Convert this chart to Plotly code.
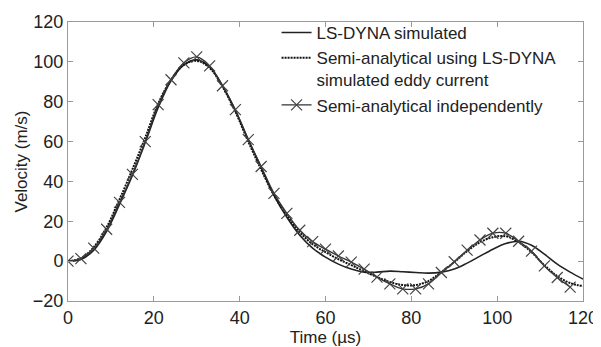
import plotly.graph_objects as go

t = [0, 3, 6, 9, 12, 15, 18, 21, 24, 27, 30, 33, 36, 39, 42, 45, 48, 51, 54, 57,
     60, 63, 66, 69, 72, 75, 78, 81, 84, 87, 90, 93, 96, 99, 102, 105, 108, 111, 114, 117, 120]

ls_dyna = [0, 0.8, 5.5, 15, 28.5, 43, 59.5, 77, 90.5, 98.5, 101, 97.5, 88, 75.5, 61, 47, 33, 22, 13, 6.5,
           2, -1.5, -4, -5.5, -5.5, -5, -5.3, -5.7, -6, -5.5, -4, -1, 2.5, 6, 8.8, 10, 8, 3.5, -1.5, -5.5, -9]

semi_lsdyna = [0, 1.5, 7, 17, 31, 46, 62, 79, 91, 98.5, 100.5, 97, 87.5, 75, 60, 46, 33, 23, 14.5, 8.5,
               4.5, 1, -2, -5, -8, -10.5, -12, -12, -10, -5.5, -0.5, 5, 9.5, 12, 12.5, 9.5, 4.5, -2, -7.5, -11, -12.5]

t_ind = [0, 3, 6, 9, 12, 15, 18, 21, 24, 27, 30, 33, 36, 39, 42, 45, 48, 51, 54, 57,
         60, 63, 66, 69, 72, 75, 78, 81, 84, 87, 90, 93, 96, 99, 102, 105, 108, 111, 114, 117]
semi_ind = [0, 1.3, 6.5, 16, 29.5, 43.5, 60, 78.5, 91, 99.5, 102.5, 98, 88, 76, 61, 47.5, 34, 24, 15.5, 9.8,
            6, 2.6, -0.5, -4, -8, -11.4, -13.9, -13.9, -11.4, -5.7, -0.3, 5.5, 10.6, 14, 14, 10, 5, -2.4, -8.2, -13]

names = ["LS-DYNA simulated",
         "Semi-analytical using LS-DYNA<br>simulated eddy current",
         "Semi-analytical independently"]

x_ticks = [0, 20, 40, 60, 80, 100, 120]
y_ticks = [-20, 0, 20, 40, 60, 80, 100, 120]

FONT = "Arial, Liberation Sans, Helvetica, sans-serif"

fig = go.Figure()
fig.add_trace(go.Scatter(x=t, y=ls_dyna, mode="lines", name=names[0],
                         line=dict(color="#222222", width=1.6, shape="spline")))
fig.add_trace(go.Scatter(x=t, y=semi_lsdyna, mode="lines", name=names[1],
                         line=dict(color="#111111", width=2, dash="2px,1px", shape="spline")))
fig.add_trace(go.Scatter(x=t_ind, y=semi_ind, mode="lines+markers", name=names[2],
                         line=dict(color="#333333", width=1.3, shape="spline"),
                         marker=dict(symbol="x-thin", size=11, line=dict(color="#444444", width=1.2))))

axis_common = dict(showgrid=False, zeroline=False, showline=True, linecolor="#9a9a9a", linewidth=1,
                   mirror="ticks", ticks="inside", ticklen=5, tickcolor="#9a9a9a", automargin=False,
                   tickfont=dict(family=FONT, size=18, color="#222222"))

fig.update_xaxes(range=[0, 120], tickvals=x_ticks, title=dict(text="Time (µs)", standoff=0,
                 font=dict(family=FONT, size=17, color="#222222")), **axis_common)
fig.update_yaxes(range=[-20, 120], tickvals=y_ticks, title=dict(text="Velocity (m/s)", standoff=0,
                 font=dict(family=FONT, size=17, color="#222222")), **axis_common)

# the page body has an 8px margin, so the figure is sized to fit the window after it
fig.update_layout(
    width=593, height=339,
    margin=dict(l=60, r=18, t=7, b=46),
    plot_bgcolor="white", paper_bgcolor="white",
    legend=dict(x=0.405, y=1.025, xanchor="left", yanchor="top", bgcolor="rgba(0,0,0,0)",
                font=dict(family=FONT, size=17, color="#222222"), valign="top",
                tracegroupgap=0, itemwidth=30),
    showlegend=True,
)

fig.write_html("out.html")
